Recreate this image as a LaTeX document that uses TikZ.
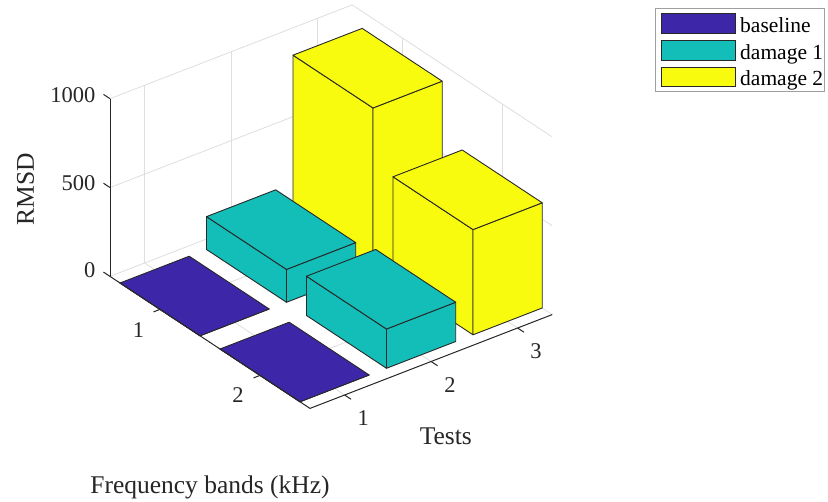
\documentclass[tikz,border=0pt]{standalone}
\usepackage{fontspec}
\setmainfont{Liberation Serif}

\definecolor{cbase}{RGB}{62,38,168}
\definecolor{cdmgone}{RGB}{19,190,184}
\definecolor{cdmgtwo}{RGB}{249,251,14}
\definecolor{axisgray}{RGB}{38,38,38}
\definecolor{gridgray}{RGB}{222,222,222}
\definecolor{edgegray}{RGB}{40,40,40}

% one bar of the bar3 chart: band, test, height, colour
\newcommand\barblock[4]{%
  \filldraw[barface, fill=#4] (#1-0.4,#2-0.4,0) -- (#1+0.4,#2-0.4,0) -- (#1+0.4,#2-0.4,#3) -- (#1-0.4,#2-0.4,#3) -- cycle;
  \filldraw[barface, fill=#4] (#1+0.4,#2-0.4,0) -- (#1+0.4,#2+0.4,0) -- (#1+0.4,#2+0.4,#3) -- (#1+0.4,#2-0.4,#3) -- cycle;
  \filldraw[barface, fill=#4] (#1-0.4,#2-0.4,#3) -- (#1+0.4,#2-0.4,#3) -- (#1+0.4,#2+0.4,#3) -- (#1-0.4,#2+0.4,#3) -- cycle;
}

\begin{document}
\begin{tikzpicture}[
  gridline/.style={draw=gridgray, line width=0.8pt},
  axisline/.style={draw=axisgray, line width=1pt},
  barface/.style={draw=edgegray, line width=0.9pt, line join=round},
  ticklabel/.style={inner sep=0pt, font=\fontsize{22.5}{27}\selectfont, text=axisgray},
  axislabel/.style={inner sep=0pt, font=\fontsize{25.5}{31}\selectfont, text=axisgray},
  legendtext/.style={inner sep=0pt, anchor=base west, font=\fontsize{21.5}{26}\selectfont, text=black},
  swatch/.style={draw=edgegray, line width=0.8pt},
]
\useasboundingbox (0pt,0pt) rectangle (828pt,-502pt);

\begin{scope}[shift={(8.1pt,-263.5pt)}, x={(100pt,-66pt)}, y={(86.5pt,33.5pt)}, z={(0pt,0.1777pt)}]
  % back walls and floor grid
  \foreach \t in {1,2,3} {
    \draw[gridline] (0.5,\t,0) -- (0.5,\t,1000);
    \draw[gridline] (0.5,\t,0) -- (2.5,\t,0);
  }
  \foreach \b in {1,2} {
    \draw[gridline] (\b,3.4,0) -- (\b,3.4,1000);
    \draw[gridline] (\b,0.6,0) -- (\b,3.4,0);
  }
  \foreach \zz in {0,500,1000} {
    \draw[gridline] (0.5,0.6,\zz) -- (0.5,3.4,\zz) -- (2.5,3.4,\zz);
  }

  % bars, back to front
  \barblock{1}{3}{905}{cdmgtwo}
  \barblock{2}{3}{592}{cdmgtwo}
  \barblock{1}{2}{185}{cdmgone}
  \barblock{2}{2}{221}{cdmgone}
  \barblock{1}{1}{0}{cbase}
  \barblock{2}{1}{0}{cbase}

  % axes and ticks
  \draw[axisline] (0.5,0.6,0) -- (0.5,0.6,1000);
  \draw[axisline] (0.5,0.6,0) -- (2.5,0.6,0) -- (2.5,3.4,0);
  \foreach \zz in {0,500,1000} \draw[axisline] (0.5,0.6,\zz) -- (0.435,0.6,\zz);
  \foreach \b in {1,2} \draw[axisline] (\b,0.6,0) -- (\b,0.525,0);
  \foreach \t in {1,2,3} \draw[axisline] (2.5,\t,0) -- (2.565,\t,0);
\end{scope}

% tick labels
\node[ticklabel, anchor=east] (ztick0) at (95.5pt,-269.7pt) {0};
\node[ticklabel, anchor=east] (ztick500) at (95.5pt,-183.3pt) {500};
\node[ticklabel, anchor=east] (ztick1000) at (95.5pt,-94.7pt) {1000};
\node[ticklabel] (bandtick1) at (138.5pt,-330pt) {1};
\node[ticklabel] (bandtick2) at (238pt,-395.3pt) {2};
\node[ticklabel] (testtick1) at (363.3pt,-418.3pt) {1};
\node[ticklabel] (testtick2) at (450pt,-385pt) {2};
\node[ticklabel] (testtick3) at (536pt,-351.3pt) {3};

% axis labels
\node[axislabel, rotate=90] (zlabel) at (25.5pt,-189.5pt) {RMSD};
\node[axislabel, anchor=base] (testlabel) at (445.8pt,-445pt) {Tests};
\node[axislabel, anchor=base] (bandlabel) at (210pt,-494pt) {Frequency bands (kHz)};

% legend
\draw[draw=gray!75, line width=0.8pt, fill=white] (655pt,-8.3pt) rectangle (824pt,-91.7pt);
\filldraw[swatch, fill=cbase] (661.7pt,-13.3pt) rectangle (735pt,-33.3pt);
\filldraw[swatch, fill=cdmgone] (661.7pt,-40.7pt) rectangle (735pt,-60pt);
\filldraw[swatch, fill=cdmgtwo] (661.7pt,-67.3pt) rectangle (735pt,-86pt);
\node[legendtext] (legbase) at (740pt,-33pt) {baseline};
\node[legendtext] (legdmgone) at (740pt,-59.5pt) {damage 1};
\node[legendtext] (legdmgtwo) at (740pt,-85.5pt) {damage 2};
\end{tikzpicture}
\end{document}
